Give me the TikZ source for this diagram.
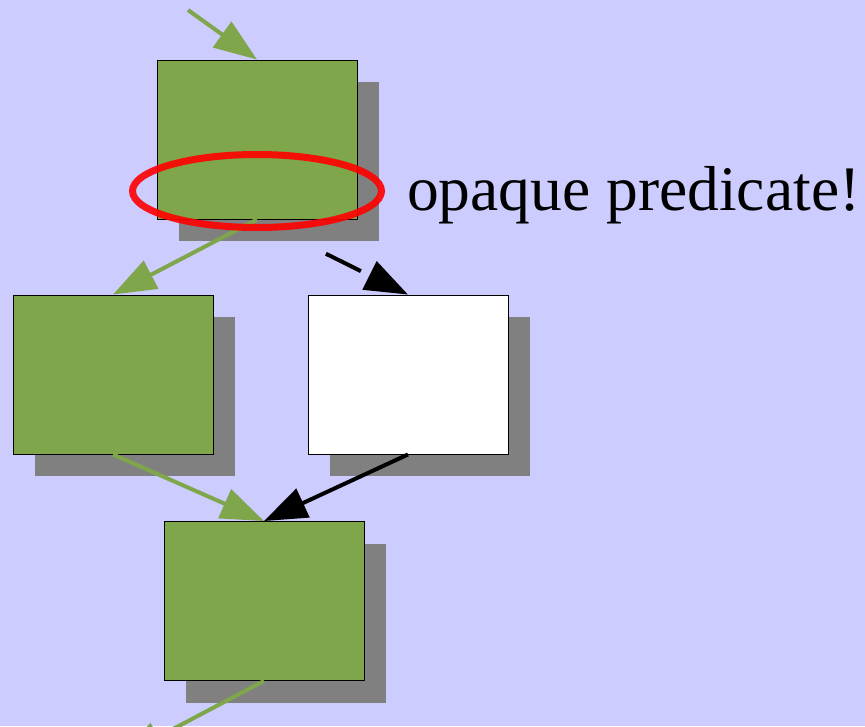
\documentclass[tikz,border=0pt]{standalone}
\usepackage{fontspec}
\setmainfont{Liberation Serif}
\usetikzlibrary{arrows.meta,shadows,shapes.geometric}
\definecolor{bgblue}{RGB}{204,204,255}
\definecolor{blockgreen}{RGB}{127,166,74}
\definecolor{shadowgray}{RGB}{128,128,128}
\tikzset{
  block/.style={rectangle, draw=black, line width=0.9pt, fill=blockgreen,
    minimum width=200pt, minimum height=159pt, inner sep=0pt,
    drop shadow={shadow xshift=22pt, shadow yshift=-22pt, opacity=1, fill=shadowgray}},
  deadblock/.style={block, fill=white},
  flow/.style={line width=4pt, draw=blockgreen, -{Triangle[length=43pt,width=31pt]}},
  fake/.style={line width=4pt, draw=black, -{Triangle[length=43pt,width=31pt]}}
}
\begin{document}
\begin{tikzpicture}[x=1pt, y=-1pt]
  % Page and background
  \useasboundingbox (0,0) rectangle (865,726);
  \clip (0,0) rectangle (865,726);
  \fill[bgblue] (0,0) rectangle (865,726);

  % Basic blocks
  \node[block] (entry) at (257,139.5) {};
  \node[block] (taken) at (113,374.5) {};
  \node[deadblock] (dead) at (408,374.5) {};
  \node[block] (join) at (264,601) {};

  \coordinate (in) at (188,10);
  \coordinate (out) at (120,757);

  % Control flow edges
  \draw[flow] (in) -- (entry.north);
  \draw[flow] (entry.south) -- (taken.north);
  \draw[fake, dash pattern=on 39pt off 77pt, dash phase=39pt] (entry.south) -- (dead.north);
  \draw[flow] (taken.south) -- (join.north);
  \draw[fake] (dead.south) -- (join.north);
  \draw[flow] (join.south) -- (out);

  % Marked branch condition
  \node[ellipse, draw=red, line width=7pt, draw opacity=0.9, inner sep=0pt,
    minimum width=249pt, minimum height=73pt] (cond) at (257,191) {};
  \node[anchor=base west, inner sep=0pt] (label) at (407,210)
    {\fontsize{63.5}{70}\selectfont opaque predicate!};
\end{tikzpicture}
\end{document}
